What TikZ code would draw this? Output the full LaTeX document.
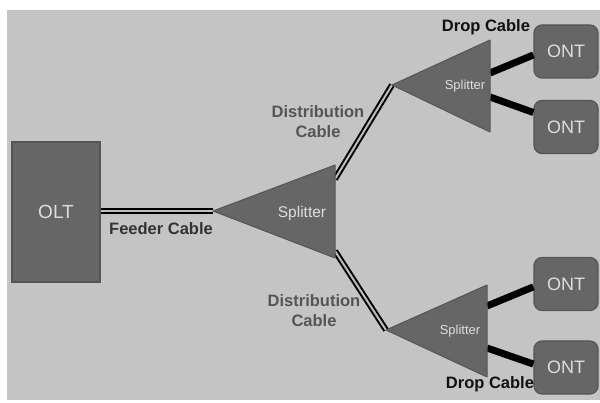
\documentclass[tikz,border=0pt]{standalone}
\usepackage{fontspec}
\setmainfont{Liberation Sans}
\begin{document}
\begin{tikzpicture}[x=1pt,y=-1pt,
  box/.style={draw=boxedge,fill=boxfill,line width=1.2pt,text=boxtext,inner sep=0pt},
  splitter/.style={draw=boxedge,fill=boxfill,line width=1pt,line join=round},
  cable/.style={draw=black,line width=2pt,double=dblfill,double distance=2pt},
  drop/.style={draw=black,line width=7pt},
  lbl/.style={font=\bfseries\fontsize{16.5}{20}\selectfont,align=center,inner sep=0pt}]
\definecolor{bg}{HTML}{C4C4C4}
\definecolor{boxfill}{HTML}{666666}
\definecolor{boxedge}{HTML}{555555}
\definecolor{boxtext}{HTML}{DDDDDD}
\definecolor{dblfill}{HTML}{BDBDBD}
\definecolor{distc}{HTML}{555555}
\definecolor{feedc}{HTML}{333333}
\definecolor{dropc}{HTML}{111111}
\useasboundingbox (0,0) rectangle (600,403);
\fill[white] (0,0) rectangle (600,403);
\fill[bg] (7,10) rectangle (600,400);
% splitter vertices
\coordinate (s1a) at (213,211);
\coordinate (s1t) at (335,165);
\coordinate (s1b) at (335,258);
\coordinate (s2a) at (392,85);
\coordinate (s2t) at (490,40);
\coordinate (s2b) at (490,132);
\coordinate (s3a) at (386,330);
\coordinate (s3t) at (487,285);
\coordinate (s3b) at (487,377);
% cable attach points on splitters
\coordinate (s1u) at (335,179);
\coordinate (s1d) at (335,251);
\coordinate (s2u) at (490,73);
\coordinate (s2d) at (490,97);
\coordinate (s3u) at (487,306);
\coordinate (s3d) at (487,348);
% boxes
\node[box,minimum width=88pt,minimum height=140pt,font=\fontsize{19}{22}\selectfont] (olt) at (56,212) {OLT};
\node[box,rounded corners=8pt,minimum width=64pt,minimum height=53pt,font=\fontsize{18}{21}\selectfont] (ont1) at (566,51.5) {ONT};
\node[box,rounded corners=8pt,minimum width=64pt,minimum height=53pt,font=\fontsize{18}{21}\selectfont] (ont2) at (566,127) {ONT};
\node[box,rounded corners=8pt,minimum width=64pt,minimum height=53pt,font=\fontsize{18}{21}\selectfont] (ont3) at (566,284) {ONT};
\node[box,rounded corners=8pt,minimum width=64pt,minimum height=53pt,font=\fontsize{18}{21}\selectfont] (ont4) at (566,367.5) {ONT};
% cables
\draw[cable] (olt.east |- s1a) -- (s1a);
\draw[cable] (s1u) -- (s2a);
\draw[cable] (s1d) -- (s3a);
\draw[drop] (s2u) -- (ont1.186);
\draw[drop] (s2d) -- (ont2.156);
\draw[drop] (s3u) -- (ont3.185);
\draw[drop] (s3d) -- (ont4.174);
% splitters
\draw[splitter] (s1a) -- (s1t) -- (s1b) -- cycle;
\draw[splitter] (s2a) -- (s2t) -- (s2b) -- cycle;
\draw[splitter] (s3a) -- (s3t) -- (s3b) -- cycle;
\node[text=boxtext,font=\fontsize{15.5}{18}\selectfont] (sp1) at (302,213) {Splitter};
\node[text=boxtext,font=\fontsize{13}{15}\selectfont] (sp2) at (465,86) {Splitter};
\node[text=boxtext,font=\fontsize{13}{15}\selectfont] (sp3) at (460,331) {Splitter};
% labels
\node[lbl,text=feedc] (lfeed) at (161,229) {Feeder Cable};
\node[lbl,text=distc] (ldist1) at (318,122) {Distribution\\Cable};
\node[lbl,text=distc] (ldist2) at (314,311) {Distribution\\Cable};
\node[lbl,text=dropc] (ldrop1) at (486,27) {Drop Cable};
\node[lbl,text=dropc] (ldrop2) at (490,384) {Drop Cable};
\end{tikzpicture}
\end{document}
